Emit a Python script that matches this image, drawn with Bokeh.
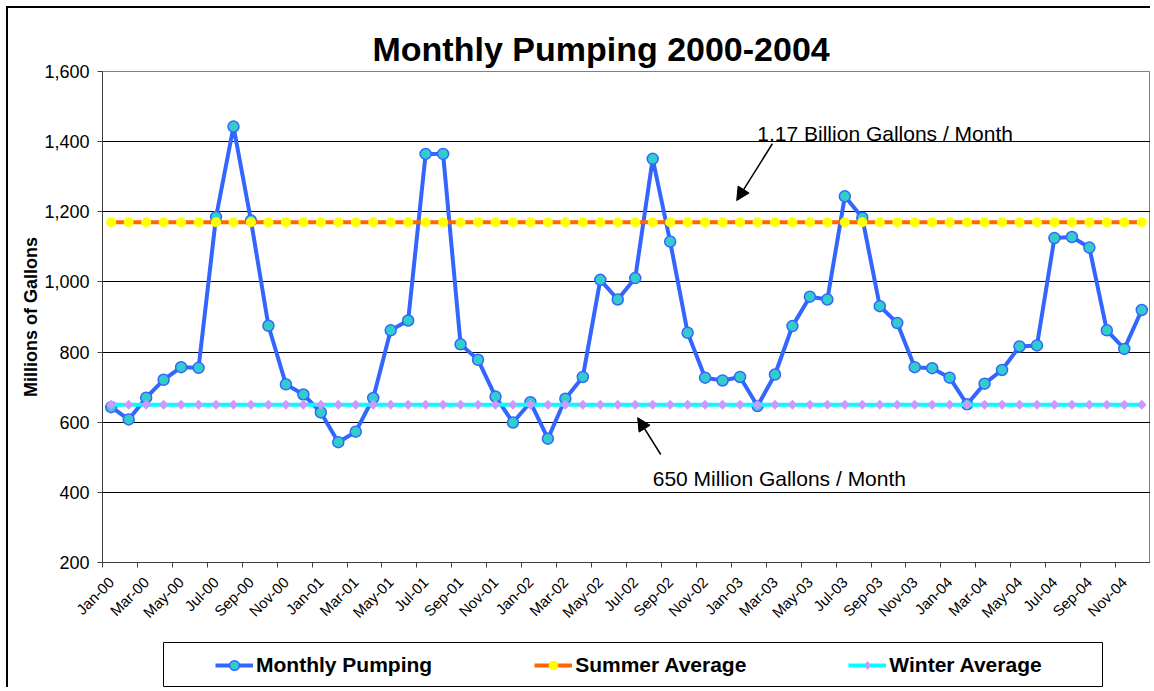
import math
from bokeh.plotting import figure
from bokeh.models import (Range1d, FixedTicker, NumeralTickFormatter, Label, Arrow,
                          NormalHead, Legend, LegendItem, ColumnDataSource)
from bokeh.layouts import column
from bokeh.embed import file_html
from bokeh.resources import INLINE

# ---------------- data ----------------
month_names = ["Jan", "Feb", "Mar", "Apr", "May", "Jun",
               "Jul", "Aug", "Sep", "Oct", "Nov", "Dec"]
years = ["00", "01", "02", "03", "04"]
months = [f"{m}-{y}" for y in years for m in month_names]

monthly_pumping = [643, 608, 670, 721, 757, 755, 1185, 1443, 1175, 875, 708, 679,
                   628, 543, 573, 669, 862, 890, 1365, 1365, 822, 778, 673, 599,
                   657, 553, 667, 729, 1006, 950, 1011, 1351, 1115, 855, 727, 719,
                   729, 646, 736, 874, 958, 950, 1244, 1183, 931, 883, 757, 754,
                   727, 651, 710, 749, 816, 819, 1125, 1128, 1098, 862, 809, 920]
summer_average = [1170] * 60
winter_average = [650] * 60

tick_labels = ["Jan-00", "Mar-00", "May-00", "Jul-00", "Sep-00", "Nov-00",
               "Jan-01", "Mar-01", "May-01", "Jul-01", "Sep-01", "Nov-01",
               "Jan-02", "Mar-02", "May-02", "Jul-02", "Sep-02", "Nov-02",
               "Jan-03", "Mar-03", "May-03", "Jul-03", "Sep-03", "Nov-03",
               "Jan-04", "Mar-04", "May-04", "Jul-04", "Sep-04", "Nov-04"]
y_ticks = [200, 400, 600, 800, 1000, 1200, 1400, 1600]

title_text = "Monthly Pumping 2000-2004"
y_label = "Millions of Gallons"
summer_note = "1.17 Billion Gallons / Month"
winter_note = "650 Million Gallons / Month"
series_names = ["Monthly Pumping", "Summer Average", "Winter Average"]

FONT = "Liberation Sans"

xs = [i + 0.5 for i in range(len(months))]
src = ColumnDataSource(dict(x=xs, month=months, pumping=monthly_pumping,
                            summer=summer_average, winter=winter_average))

# ---------------- main figure ----------------
p = figure(width=1142, height=634,
           x_range=Range1d(0, len(months)), y_range=Range1d(y_ticks[0], y_ticks[-1]),
           toolbar_location=None, output_backend="svg",
           min_border_left=94, min_border_right=0, min_border_top=63, min_border_bottom=80,
           background_fill_color="white", border_fill_color="white",
           outline_line_color="#808080", outline_line_width=1,
           frame_align=False)

p.title.text = title_text
p.title.text_font = FONT
p.title.text_font_style = "bold"
p.title.text_font_size = "34px"
p.title.text_color = "black"
p.title.align = "left"
p.title.offset = 270
p.title.standoff = 4
p.title.vertical_align = "top"

# axes
label_ticks = [xs[i] for i in range(0, len(months), 2)]
p.xaxis.ticker = FixedTicker(ticks=label_ticks, minor_ticks=list(range(0, len(months) + 1, 2)))
p.xaxis.major_label_overrides = {label_ticks[k]: tick_labels[k] for k in range(len(tick_labels))}
p.xaxis.major_tick_line_color = None
p.xaxis.major_tick_out = 5
p.xaxis.major_tick_in = 0
p.xaxis.minor_tick_line_color = "#404040"
p.xaxis.minor_tick_out = 5
p.xaxis.minor_tick_in = 0
p.xaxis.major_label_orientation = math.pi / 4
p.xaxis.major_label_standoff = 12
p.xaxis.major_label_text_font = FONT
p.xaxis.major_label_text_font_size = "15px"
p.xaxis.major_label_text_color = "black"

p.yaxis.ticker = FixedTicker(ticks=y_ticks)
p.yaxis.formatter = NumeralTickFormatter(format="0,0")
p.yaxis.major_tick_out = 5
p.yaxis.major_tick_in = 0
p.yaxis.major_tick_line_color = "#404040"
p.yaxis.minor_tick_line_color = None
p.yaxis.major_label_standoff = 8
p.yaxis.major_label_text_font = FONT
p.yaxis.major_label_text_font_size = "18px"
p.yaxis.major_label_text_color = "black"
p.yaxis.axis_label = y_label
p.yaxis.axis_label_text_font = FONT
p.yaxis.axis_label_text_font_style = "bold"
p.yaxis.axis_label_text_font_size = "18px"
p.yaxis.axis_label_text_color = "black"
p.yaxis.axis_label_standoff = 0

p.axis.axis_line_color = "#404040"
p.axis.axis_line_width = 1

p.xgrid.visible = False
p.ygrid.ticker = FixedTicker(ticks=y_ticks[1:-1])
p.ygrid.grid_line_color = "black"
p.ygrid.grid_line_width = 1

# series
p.line("x", "pumping", source=src, line_color="#3366FF", line_width=4)
p.scatter("x", "pumping", source=src, marker="circle", size=11,
          fill_color="#33CCCC", line_color="#3366FF", line_width=1.5)
p.line("x", "summer", source=src, line_color="#FF6600", line_width=4)
p.scatter("x", "summer", source=src, marker="circle", size=10,
          fill_color="#FFFF00", line_color=None)
p.line("x", "winter", source=src, line_color="#00FFFF", line_width=4)
p.scatter("x", "winter", source=src, marker="square", size=7, angle=math.pi / 4,
          fill_color="#CC99FF", line_color=None)

# notes
p.add_layout(Label(x=37.49, y=1422, text=summer_note, text_font=FONT,
                   text_font_size="21px", text_align="left", text_baseline="alphabetic",
                   text_color="black"))
p.add_layout(Label(x=31.5, y=439, text=winter_note, text_font=FONT,
                   text_font_size="21px", text_align="left", text_baseline="alphabetic",
                   text_color="black"))
p.add_layout(Arrow(x_start=38.35, y_start=1394, x_end=36.31, y_end=1232,
                   line_color="black", line_width=1.5,
                   end=NormalHead(size=13, fill_color="black", line_color="black")))
p.add_layout(Arrow(x_start=31.96, y_start=508, x_end=30.64, y_end=613,
                   line_color="black", line_width=1.5,
                   end=NormalHead(size=13, fill_color="black", line_color="black")))

# ---------------- legend panel ----------------
lg = figure(width=1142, height=45, x_range=Range1d(0, 1), y_range=Range1d(-10, -9),
            toolbar_location=None, output_backend="svg",
            x_axis_location=None, y_axis_location=None,
            min_border_left=155, min_border_right=48, min_border_top=0, min_border_bottom=0,
            background_fill_color="white", border_fill_color="white",
            outline_line_color="black", outline_line_width=1,
            frame_align=False)
lg.xgrid.visible = False
lg.ygrid.visible = False

# legend proxies: first point of each series (outside this panel's visible range)
l1 = lg.line(x=xs[:1], y=monthly_pumping[:1], line_color="#3366FF", line_width=4)
m1 = lg.scatter(x=xs[:1], y=monthly_pumping[:1], marker="circle", size=11,
                fill_color="#33CCCC", line_color="#3366FF", line_width=1.5)
l2 = lg.line(x=xs[:1], y=summer_average[:1], line_color="#FF6600", line_width=4)
m2 = lg.scatter(x=xs[:1], y=summer_average[:1], marker="circle", size=10,
                fill_color="#FFFF00", line_color=None)
l3 = lg.line(x=xs[:1], y=winter_average[:1], line_color="#00FFFF", line_width=4)
m3 = lg.scatter(x=xs[:1], y=winter_average[:1], marker="diamond", size=11,
                fill_color="#CC99FF", line_color=None)

legend = Legend(items=[LegendItem(label=series_names[0], renderers=[l1, m1]),
                       LegendItem(label=series_names[1], renderers=[l2, m2]),
                       LegendItem(label=series_names[2], renderers=[l3, m3])],
                orientation="horizontal", location=(52, 10), padding=0, margin=0,
                spacing=102, glyph_width=38, glyph_height=24, label_standoff=3,
                label_text_font=FONT, label_text_font_style="bold",
                label_text_font_size="21px", label_text_color="black",
                border_line_color=None, background_fill_alpha=0)
lg.add_layout(legend)

layout = column(p, lg, styles={"border-left": "2px solid black",
                               "border-top": "2px solid black",
                               "margin-left": "6px", "margin-top": "6px",
                               "margin-bottom": "-16px"})

open("out.html", "w").write(file_html(layout, INLINE))
